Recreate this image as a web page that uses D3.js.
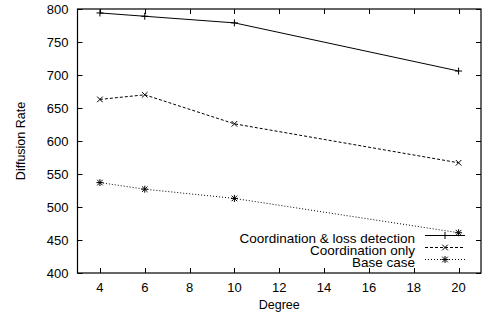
<!DOCTYPE html>
<html>
<head>
<meta charset="utf-8">
<script src="https://cdn.jsdelivr.net/npm/d3@7"></script>
<style>
  body { margin: 0; background: #fff; }
  text { font-family: "Liberation Sans", Arial, sans-serif; font-size: 13px; fill: #000; }
</style>
</head>
<body>
<div id="chart"></div>
<script>
// data
const degrees      = [4, 6, 10, 20];
const lossDetect   = [794, 789, 779, 706];
const coordOnly    = [663, 670, 626, 567];
const baseCase     = [537, 527, 513, 461];
const seriesNames  = ['Coordination & loss detection', 'Coordination only', 'Base case'];
const xTicks       = [4, 6, 8, 10, 12, 14, 16, 18, 20];
const yTicks       = [400, 450, 500, 550, 600, 650, 700, 750, 800];

const W = 482, H = 320;
const pLeft = 77.5, pRight = 481, pTop = 9, pBottom = 273;

const svg = d3.select('#chart').append('svg')
  .attr('width', W).attr('height', H);

const x = d3.scaleLinear().domain([3, 21]).range([pLeft, pRight]);
const y = d3.scaleLinear().domain([400, 800]).range([pBottom, pTop]);

// ticks (gnuplot style, inward and mirrored)
const tk = 5;
const g = svg.append('g').attr('stroke', '#000').attr('stroke-width', 1);
xTicks.forEach(function(v) {
  const px = Math.round(x(v)) + 0.5;
  g.append('line').attr('x1', px).attr('x2', px).attr('y1', pBottom).attr('y2', pBottom - tk);
  g.append('line').attr('x1', px).attr('x2', px).attr('y1', pTop).attr('y2', pTop + tk);
});
yTicks.forEach(function(v) {
  const py = Math.round(y(v)) + 0.5;
  g.append('line').attr('x1', pLeft).attr('x2', pLeft + tk).attr('y1', py).attr('y2', py);
  g.append('line').attr('x1', pRight).attr('x2', pRight - tk).attr('y1', py).attr('y2', py);
});

// border
svg.append('rect')
  .attr('x', pLeft).attr('y', pTop)
  .attr('width', pRight - pLeft).attr('height', pBottom - pTop)
  .attr('fill', 'none').attr('stroke', '#000').attr('stroke-width', 1.2);

// tick labels
svg.selectAll('.xl').data(xTicks).enter().append('text')
  .attr('x', d => x(d)).attr('y', 291.5)
  .attr('text-anchor', 'middle').text(d => d);
svg.selectAll('.yl').data(yTicks).enter().append('text')
  .attr('x', 68.5).attr('y', d => y(d) + 4.7)
  .attr('text-anchor', 'end').text(d => d);

// axis titles
svg.append('text').attr('x', (pLeft + pRight) / 2).attr('y', 308.5)
  .attr('text-anchor', 'middle').style('font-size', '12.5px').text('Degree');
svg.append('text')
  .attr('transform', 'translate(24.5,' + ((pTop + pBottom) / 2) + ') rotate(-90)')
  .attr('text-anchor', 'middle').style('font-size', '12.5px').text('Diffusion Rate');

// markers
const ms = 3.5;
function plus(sel, cx, cy) {
  sel.append('path').attr('d', `M${cx - ms},${cy}H${cx + ms}M${cx},${cy - ms}V${cy + ms}`);
}
function cross(sel, cx, cy) {
  const s = ms * 0.8;
  sel.append('path').attr('d', `M${cx - s},${cy - s}L${cx + s},${cy + s}M${cx - s},${cy + s}L${cx + s},${cy - s}`);
}
function star(sel, cx, cy) { plus(sel, cx, cy); cross(sel, cx, cy); }

const series = [
  { name: seriesNames[0], vals: lossDetect, dash: null,  mark: plus },
  { name: seriesNames[1], vals: coordOnly,  dash: '3,2', mark: cross },
  { name: seriesNames[2], vals: baseCase,   dash: '1,2', mark: star }
];

const line = d3.line().x(d => x(d[0])).y(d => y(d[1]));

series.forEach(function(s, i) {
  const pts = degrees.map((d, j) => [d, s.vals[j]]);
  svg.append('path').datum(pts)
    .attr('d', line)
    .attr('fill', 'none').attr('stroke', '#000').attr('stroke-width', 1)
    .attr('stroke-dasharray', s.dash);
  const mg = svg.append('g').attr('stroke', '#000').attr('stroke-width', 1).attr('fill', 'none');
  pts.forEach(p => s.mark(mg, x(p[0]), y(p[1])));

  // legend
  const ly = 238.5 + i * 12;
  svg.append('text').attr('x', 415).attr('y', ly + 4.6)
    .attr('text-anchor', 'end').style('font-size', '13.5px').text(s.name);
  svg.append('line').attr('x1', 425).attr('x2', 465).attr('y1', ly - 3).attr('y2', ly - 3)
    .attr('stroke', '#000').attr('stroke-width', 1).attr('stroke-dasharray', s.dash);
  s.mark(mg, 445, ly - 3);
});
</script>
</body>
</html>
